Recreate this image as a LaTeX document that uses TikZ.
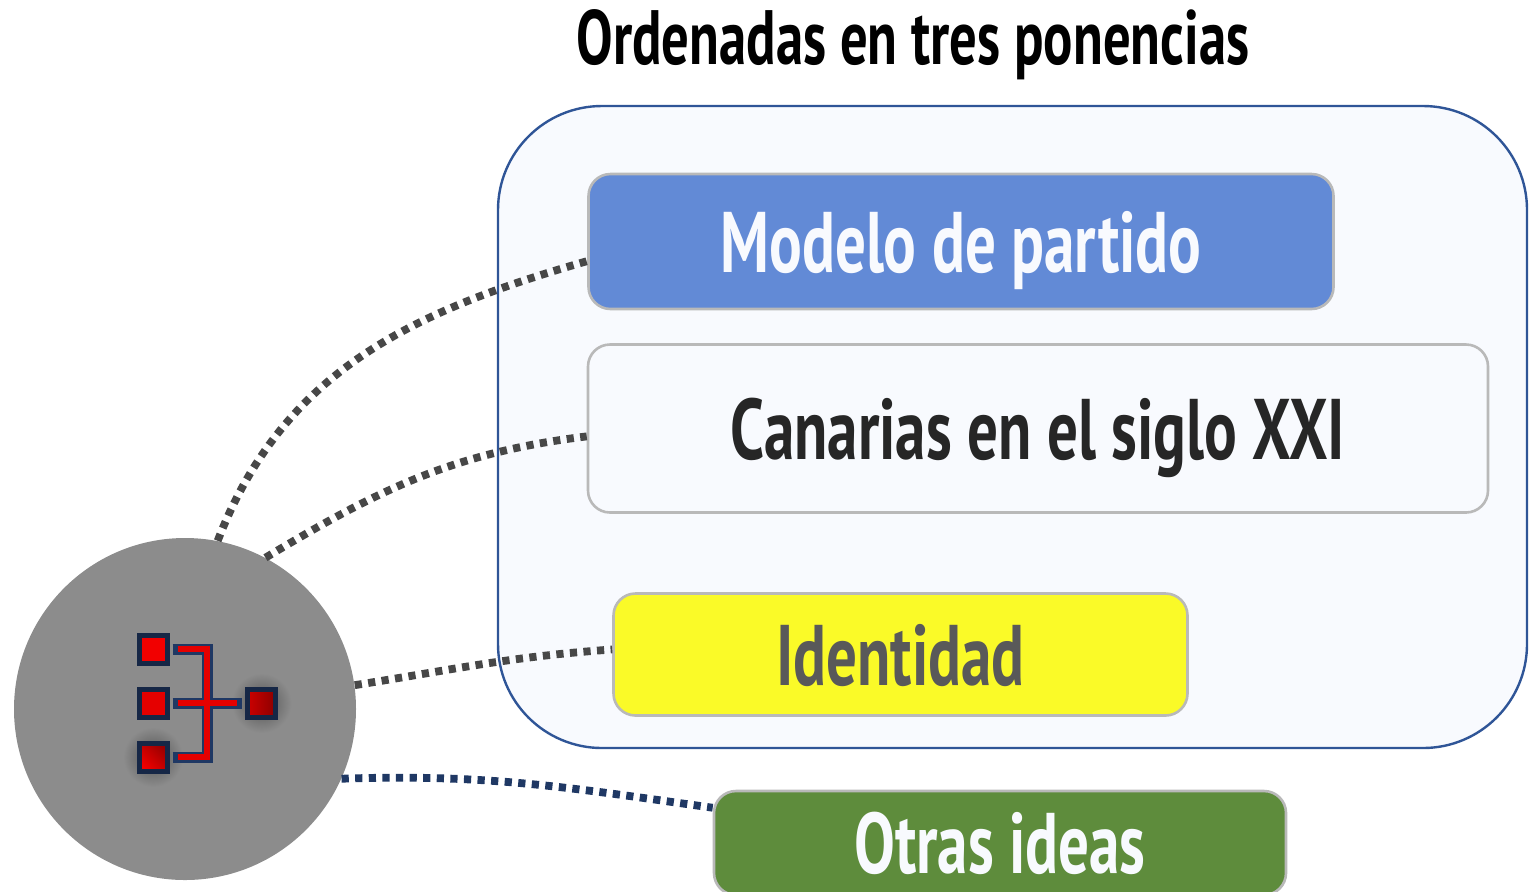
\documentclass[tikz,border=0pt]{standalone}
\usepackage{fontspec}
\usetikzlibrary{calc}
\setmainfont[FakeStretch=0.71]{PT Sans}
\definecolor{bordeazul}{HTML}{2F5597}
\definecolor{fondo}{HTML}{F8FAFE}
\definecolor{azulbox}{HTML}{628AD6}
\definecolor{amarillo}{HTML}{FAFA28}
\definecolor{verde}{HTML}{5E8C3C}
\definecolor{marino}{HTML}{1F3864}
\tikzset{
    ponencia/.style={draw=gray!55, line width=1.3pt, rounded corners=11pt, inner sep=0pt, text depth=0pt, font=\fontsize{43}{50}\selectfont\bfseries},
    cuadro/.style={draw=marino!70!black, line width=2.5pt, minimum size=14pt, inner sep=0pt},
    halo/.style={circle, inner color=black!68, outer color=black!45, minimum size=30pt, inner sep=0pt},
    enlace/.style={line width=3.9pt, dash pattern=on 3.6pt off 3.2pt},
    pista/.style={draw=marino, line width=5.5pt},
    luz/.style={draw=red!90!black, line width=3pt}
}

\begin{document}
\begin{tikzpicture}[x=0.5pt,y=-0.5pt]
    \useasboundingbox (0,0) rectangle (1534,891);
    % Titulo y recuadro exterior
    \node[text depth=0pt, font=\fontsize{38.5}{44}\selectfont\bfseries] (titulo) at (913,37) {Ordenadas en tres ponencias};
    \node[draw=bordeazul, fill=fondo, line width=1.2pt, rounded corners=52pt, minimum width=514.5pt, minimum height=321pt] (recuadro) at (1012.5,427) {};
    % Ponencias
    \node[ponencia, fill=azulbox, text=fondo, minimum width=372.5pt, minimum height=67.5pt] (modelo) at (961,241.5) {Modelo de partido};
    \node[ponencia, fill=fondo, text=black!85, minimum width=450pt, minimum height=84pt] (canarias) at (1038,428.5) {Canarias en el siglo XXI};
    \node[ponencia, fill=amarillo, text=black!65, minimum width=287pt, minimum height=61pt] (identidad) at (900.5,654.5) {Identidad};
    \node[ponencia, fill=verde, text=fondo, minimum width=286pt, minimum height=52pt] (otras) at (1000,843) {Otras ideas};
    % Circulo con el icono
    \node[circle, fill=black!45, minimum size=171pt, inner sep=0pt] (circulo) at (185,709) {};
    \node[halo] (haloc) at (153,757) {};
    \node[halo] (halod) at (261.5,703) {};
    \node[cuadro, fill=red!95!black] (cuadroa) at (153,649) {};
    \node[cuadro, fill=red!90!black] (cuadrob) at (153,703) {};
    \node[cuadro, left color=red!95!black, right color=red!60!black, shading angle=135] (cuadroc) at (153,757) {};
    \node[cuadro, left color=red!80!black, right color=red!55!black] (cuadrod) at (261.5,703) {};
    \coordinate (cruce) at (207,703);
    \draw[pista] (cuadroa.east) ++(3,0) -| (cruce);
    \draw[pista] (cuadroc.east) ++(3,0) -| (cruce);
    \draw[pista] (cuadrob.east) ++(3,0) -- ($(cuadrod.west)+(-3,0)$);
    \draw[luz] (cuadroa.east) ++(8,0) -| (cruce);
    \draw[luz] (cuadroc.east) ++(8,0) -| (cruce);
    \draw[luz] (cuadrob.east) ++(8,0) -- ($(cuadrod.west)+(-8,0)$);
    % Enlaces punteados
    \draw[enlace, draw=black!72] (circulo.79.5) to[out=69, in=196] (modelo.183.3);
    \draw[enlace, draw=black!72] (circulo.62.7) to[out=31, in=187] (canarias.181.2);
    \draw[enlace, draw=black!72] (circulo.8) to[out=9, in=184] (identidad.179.5);
    \draw[enlace, draw=marino] (circulo.-24) to[out=2, in=172] (otras.173);
\end{tikzpicture}
\end{document}
